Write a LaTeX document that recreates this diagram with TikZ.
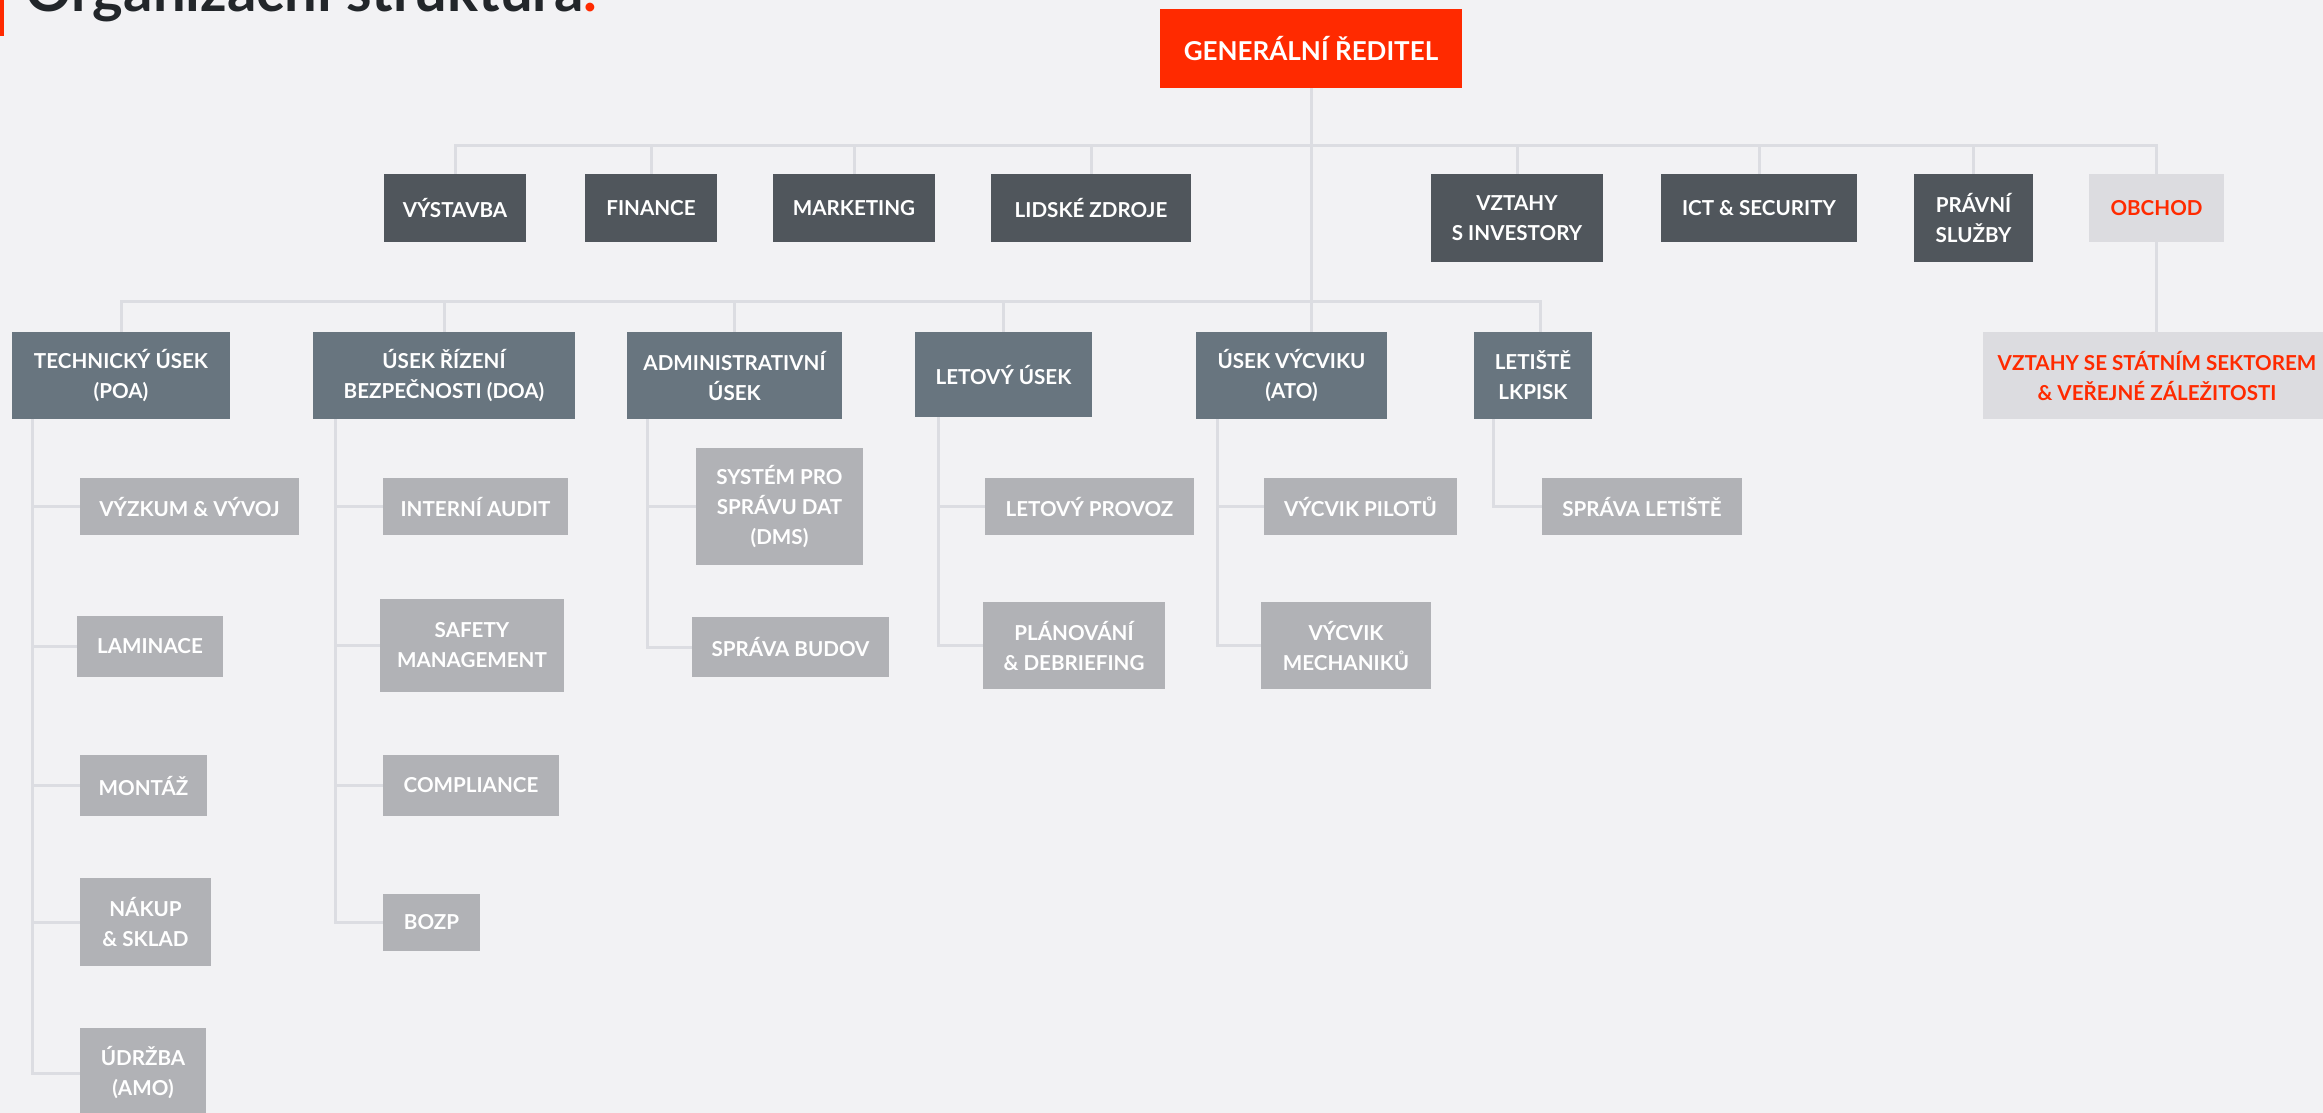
\documentclass[tikz,border=0pt]{standalone}
\usepackage{fontspec}
\setmainfont{Lato}
\definecolor{bgC}{HTML}{F2F2F4}
\definecolor{lineC}{HTML}{DCDDE2}
\definecolor{redC}{HTML}{FF2A00}
\definecolor{darkC}{HTML}{50565C}
\definecolor{midC}{HTML}{68757F}
\definecolor{lightC}{HTML}{B1B2B6}
\definecolor{paleC}{HTML}{DCDCE0}
\definecolor{titleC}{HTML}{22262A}
\newcommand{\bx}[7]{\node[#1, minimum width={(#5-#3)*1pt}, minimum height={(#6-#4)*1pt}] (#2) at ({(#3+#5)/2},{(#4+#6)/2}) {#7};}
\begin{document}
\begin{tikzpicture}[x=1pt,y=-1pt,
  ln/.style={draw=lineC, line width=3pt},
  base/.style={inner sep=0pt, align=center, font=\bfseries\fontsize{20.6}{30}\selectfont, text=white},
  dark/.style={base, fill=darkC},
  mid/.style={base, fill=midC},
  light/.style={base, fill=lightC},
  pale/.style={base, fill=paleC, text=redC},
  gdbox/.style={base, fill=redC, font=\bfseries\fontsize{26}{30}\selectfont}]
\useasboundingbox (0,0) rectangle (2323,1113);
\clip (0,0) rectangle (2323,1113);
\fill[bgC] (0,0) rectangle (2323,1113);
% title
\fill[redC] (0,0) rectangle (3.5,36);
\node[anchor=base west, inner sep=0pt, font=\bfseries\fontsize{58}{58}\selectfont, text=titleC] (title) at (25,12) {Organizační struktura\textcolor{redC}{.}};
% top
\bx{gdbox}{gd}{1160}{9}{1462}{88}{GENERÁLNÍ ŘEDITEL}
% level 1
\bx{dark}{vys}{384}{174}{526}{242}{VÝSTAVBA}
\bx{dark}{fin}{585}{174}{717}{242}{FINANCE}
\bx{dark}{mkt}{773}{174}{935}{242}{MARKETING}
\bx{dark}{lz}{991}{174}{1191}{242}{LIDSKÉ ZDROJE}
\bx{dark}{vzi}{1431}{174}{1603}{262}{VZTAHY\\S INVESTORY}
\bx{dark}{ict}{1661}{174}{1857}{242}{ICT \& SECURITY}
\bx{dark}{pra}{1914}{174}{2033}{262}{PRÁVNÍ\\SLUŽBY}
\bx{pale}{obc}{2089}{174}{2224}{242}{OBCHOD}
\bx{pale}{vzs}{1983}{332}{2331}{419}{VZTAHY SE STÁTNÍM SEKTOREM\\\& VEŘEJNÉ ZÁLEŽITOSTI}
% level 2
\bx{mid}{tech}{12}{332}{230}{419}{TECHNICKÝ ÚSEK\\(POA)}
\bx{mid}{doa}{313}{332}{575}{419}{ÚSEK ŘÍZENÍ\\BEZPEČNOSTI (DOA)}
\bx{mid}{adm}{627}{332}{842}{419}{ADMINISTRATIVNÍ\\ÚSEK}
\bx{mid}{let}{915}{332}{1092}{417}{LETOVÝ ÚSEK}
\bx{mid}{ato}{1196}{332}{1387}{419}{ÚSEK VÝCVIKU\\(ATO)}
\bx{mid}{lkp}{1474}{332}{1592}{419}{LETIŠTĚ\\LKPISK}
% level 3
\bx{light}{vyz}{80}{478}{299}{535}{VÝZKUM \& VÝVOJ}
\bx{light}{lam}{77}{616}{223}{677}{LAMINACE}
\bx{light}{mon}{80}{755}{207}{816}{MONTÁŽ}
\bx{light}{nak}{80}{878}{211}{966}{NÁKUP\\\& SKLAD}
\bx{light}{udr}{80}{1028}{206}{1118}{ÚDRŽBA\\(AMO)}
\bx{light}{ia}{383}{478}{568}{535}{INTERNÍ AUDIT}
\bx{light}{sm}{380}{599}{564}{692}{SAFETY\\MANAGEMENT}
\bx{light}{com}{383}{755}{559}{816}{COMPLIANCE}
\bx{light}{boz}{383}{894}{480}{951}{BOZP}
\bx{light}{dms}{696}{448}{863}{565}{SYSTÉM PRO\\SPRÁVU DAT\\(DMS)}
\bx{light}{sb}{692}{617}{889}{677}{SPRÁVA BUDOV}
\bx{light}{lp}{985}{478}{1194}{535}{LETOVÝ PROVOZ}
\bx{light}{pd}{983}{602}{1165}{689}{PLÁNOVÁNÍ\\\& DEBRIEFING}
\bx{light}{vp}{1264}{478}{1457}{535}{VÝCVIK PILOTŮ}
\bx{light}{vm}{1261}{602}{1431}{689}{VÝCVIK\\MECHANIKŮ}
\bx{light}{sl}{1542}{478}{1742}{535}{SPRÁVA LETIŠTĚ}
% buses
\coordinate (busA) at (0,146);
\coordinate (busB) at (0,301);
\draw[ln] (gd.south) -- (gd.south |- ato.north);
\draw[ln] (vys.north) -- (vys.north |- busA) -- (obc.north |- busA) -- (obc.north);
\foreach \n in {fin,mkt,lz,vzi,ict,pra} \draw[ln] (\n.north) -- (\n.north |- busA);
\draw[ln] (obc.south) -- (obc.south |- vzs.north);
\coordinate (lkpT) at ([xshift=7pt]lkp.north);
\draw[ln] (tech.north) -- (tech.north |- busB) -- (lkpT |- busB) -- (lkpT);
\foreach \n in {doa,adm,let} \draw[ln] (\n.north) -- (\n.north |- busB);
% sub branches
\coordinate (techV) at ([xshift=21pt]tech.south west);
\coordinate (doaV) at ([xshift=23pt]doa.south west);
\coordinate (admV) at ([xshift=21pt]adm.south west);
\coordinate (letV) at ([xshift=24pt]let.south west);
\coordinate (atoV) at ([xshift=22pt]ato.south west);
\coordinate (lkpV) at ([xshift=20pt]lkp.south west);
\foreach \c in {vyz,lam,mon,nak,udr} \draw[ln] (techV) |- (\c.west);
\foreach \c in {ia,sm,com,boz} \draw[ln] (doaV) |- (\c.west);
\foreach \c in {dms,sb} \draw[ln] (admV) |- (\c.west);
\foreach \c in {lp,pd} \draw[ln] (letV) |- (\c.west);
\foreach \c in {vp,vm} \draw[ln] (atoV) |- (\c.west);
\draw[ln] (lkpV) |- (sl.west);
\end{tikzpicture}
\end{document}
